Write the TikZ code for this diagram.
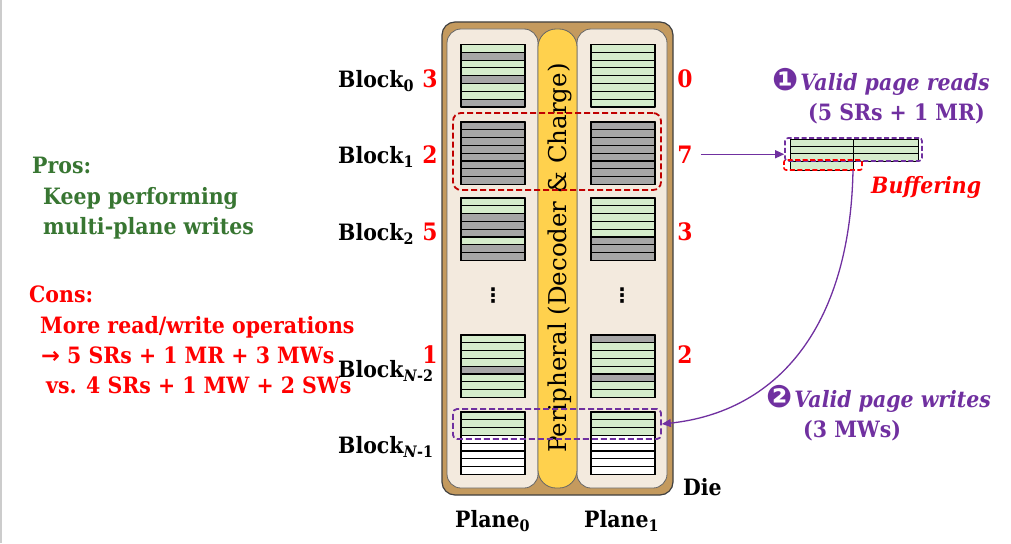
\documentclass[tikz,border=0pt]{standalone}
\usepackage{fontspec}
\setmainfont{DejaVu Serif}[FakeStretch=0.91]
\newfontfamily\perif{DejaVu Serif}
\newfontfamily\dvs{DejaVu Sans}
\usetikzlibrary{arrows.meta}
\definecolor{gr}{RGB}{213,236,203}
\definecolor{gy}{RGB}{166,166,166}
\definecolor{wt}{RGB}{255,255,255}
\definecolor{brn}{RGB}{196,154,94}
\definecolor{pln}{RGB}{243,234,222}
\definecolor{ylw}{RGB}{255,209,77}
\definecolor{ppl}{RGB}{112,48,160}
\definecolor{dred}{RGB}{192,0,0}
\definecolor{rd}{RGB}{255,0,0}
\definecolor{grn}{RGB}{56,118,50}
\newcommand{\blk}[3]{%
  \foreach \rowc [count=\i from 0] in {#3} {
    \draw[line width=1.1pt, fill=\rowc] (#1, #2+\i*7.8) rectangle ++(64,7.8);
  }
  \draw[line width=1.7pt] (#1,#2) rectangle ++(64,62.4);
}
\tikzset{
  lab/.style={font=\fontsize{22.5}{26}\selectfont\bfseries, inner sep=0pt, anchor=base west},
  num/.style={font=\fontsize{24}{28}\selectfont\bfseries, text=rd, inner sep=0pt, anchor=base},
  pro/.style={lab, text=grn},
  con/.style={lab, text=rd},
  pur/.style={lab, text=ppl},
  dsh/.style={dash pattern=on 6pt off 3pt, line width=1.8pt},
}
\begin{document}
\begin{tikzpicture}[x=1pt,y=-1pt,line join=round]
\useasboundingbox (0,0) rectangle (1011,543);
\draw[gray!40, line width=1.5pt] (1,0) -- (1,543);
% die
\draw[fill=brn, draw=black!75, line width=1.2pt, rounded corners=13] (442,22) rectangle (673,495);
\draw[fill=pln, draw=black!60, line width=0.8pt, rounded corners=14] (447,29) rectangle (538,488);
\draw[fill=pln, draw=black!60, line width=0.8pt, rounded corners=14] (577,29) rectangle (667,488);
\draw[fill=ylw, draw=black!60, line width=0.8pt, rounded corners=18] (538,29) rectangle (577,488);
\node[rotate=90, font=\perif\fontsize{24.5}{28}\selectfont, inner sep=0pt] (peri) at (560,258) {Peripheral (Decoder \& Charge)};
% blocks plane 0
\blk{461}{44.5}{gr,gy,gr,gr,gy,gr,gr,gy}
\blk{461}{122}{gy,gy,gy,gy,gy,gy,gy,gy}
\blk{461}{198}{gr,gr,gy,gy,gy,gr,gy,gy}
\blk{461}{335}{gr,gr,gr,gr,gy,gr,gr,gr}
\blk{461}{412}{gr,gr,gr,wt,wt,wt,wt,wt}
% blocks plane 1
\blk{591}{44.5}{gr,gr,gr,gr,gr,gr,gr,gr}
\blk{591}{122}{gy,gy,gy,gy,gy,gy,gy,gy}
\blk{591}{198}{gr,gr,gr,gr,gr,gy,gy,gy}
\blk{591}{335}{gy,gr,gr,gr,gr,gy,gr,gr}
\blk{591}{412}{gr,gr,gr,wt,wt,wt,wt,wt}
\node[font=\dvs\bfseries\fontsize{20}{22}\selectfont, inner sep=0pt] (dots0) at (493,296) {⋮};
\node[font=\dvs\bfseries\fontsize{20}{22}\selectfont, inner sep=0pt] (dots1) at (622,296) {⋮};
% dashed selections
\node[draw=dred, dsh, rounded corners=8, minimum width=208, minimum height=77, inner sep=0pt] (rbox) at (557,151.5) {};
\node[draw=ppl, dsh, rounded corners=4, minimum width=208, minimum height=30, inner sep=0pt] (wbox) at (557,424) {};
% block labels
\node[lab] (b0) at (338,87) {Block\textsubscript{0}};
\node[lab] (b1) at (338,163) {Block\textsubscript{1}};
\node[lab] (b2) at (338,240) {Block\textsubscript{2}};
\node[lab] (bn2) at (338,377) {Block\textsubscript{\textit{N}-2}};
\node[lab] (bn1) at (338,453) {Block\textsubscript{\textit{N}-1}};
\node[num] (l0) at (430,87) {3};
\node[num] (l1) at (430,163) {2};
\node[num] (l2) at (430,240) {5};
\node[num] (l3) at (430,363) {1};
\node[num] (r0) at (685,87) {0};
\node[num] (r1) at (685,163) {7};
\node[num] (r2) at (685,240) {3};
\node[num] (r3) at (685,363) {2};
\node[lab] (die) at (683,495) {Die};
\node[lab] (p0) at (455,527) {Plane\textsubscript{0}};
\node[lab] (p1) at (584,527) {Plane\textsubscript{1}};
% left text
\node[pro] (t1) at (32,173) {Pros:};
\node[pro] (t2) at (43,204) {Keep performing};
\node[pro] (t3) at (43,234) {multi-plane writes};
\node[con] (t4) at (29,302) {Cons:};
\node[con] (t5) at (40,333) {More read/write operations};
\node[con] (t6) at (41,363) {{\dvs\bfseries →} 5 SRs + 1 MR + 3 MWs};
\node[con] (t7) at (46,393) {vs. 4 SRs + 1 MW + 2 SWs};
% buffer
\fill[gr] (790,139.5) rectangle (918,161);
\fill[gr] (790,161) rectangle (853,170);
\draw[line width=1pt] (790,139.5) rectangle (918,161);
\draw[line width=1pt] (790,146.7) -- (918,146.7);
\draw[line width=1pt] (790,153.9) -- (918,153.9);
\draw[line width=1pt] (790,161) -- (790,170) -- (853,170) -- (853,139.5);
\node[draw=ppl, dash pattern=on 5pt off 2.5pt, line width=1.6pt, rounded corners=3, minimum width=137, minimum height=23, inner sep=0pt] (buf) at (853.5,149.5) {};
\node[draw=rd, dash pattern=on 5pt off 2.5pt, line width=1.6pt, rounded corners=2, minimum width=78, minimum height=10, inner sep=0pt] (bfr) at (823,165) {};
\coordinate (bufb) at (853,170);
\node[pur] (rd1) at (772,90) {{\dvs\fontsize{31}{32}\selectfont ❶}\hspace{2pt}\textit{Valid page reads}};
\node[pur] (rd2) at (808,120) {(5 SRs + 1 MR)};
\node[lab, text=rd] (bufl) at (871,193) {\textit{Buffering}};
\node[pur] (wr1) at (766,407) {{\dvs\fontsize{31}{32}\selectfont ❷}\hspace{2pt}\textit{Valid page writes}};
\node[pur] (wr2) at (803,437) {(3 MWs)};
% arrows
\draw[ppl, line width=1.3pt, -{Triangle[length=9pt,width=8pt]}] (r1.east) ++(8,0) -- (buf.west |- r1.east);
\draw[ppl, line width=1.3pt, -{Triangle[length=9pt,width=8pt]}] (bufb) .. controls (850,330) and (775,412) .. (wbox.east);
\end{tikzpicture}
\end{document}
